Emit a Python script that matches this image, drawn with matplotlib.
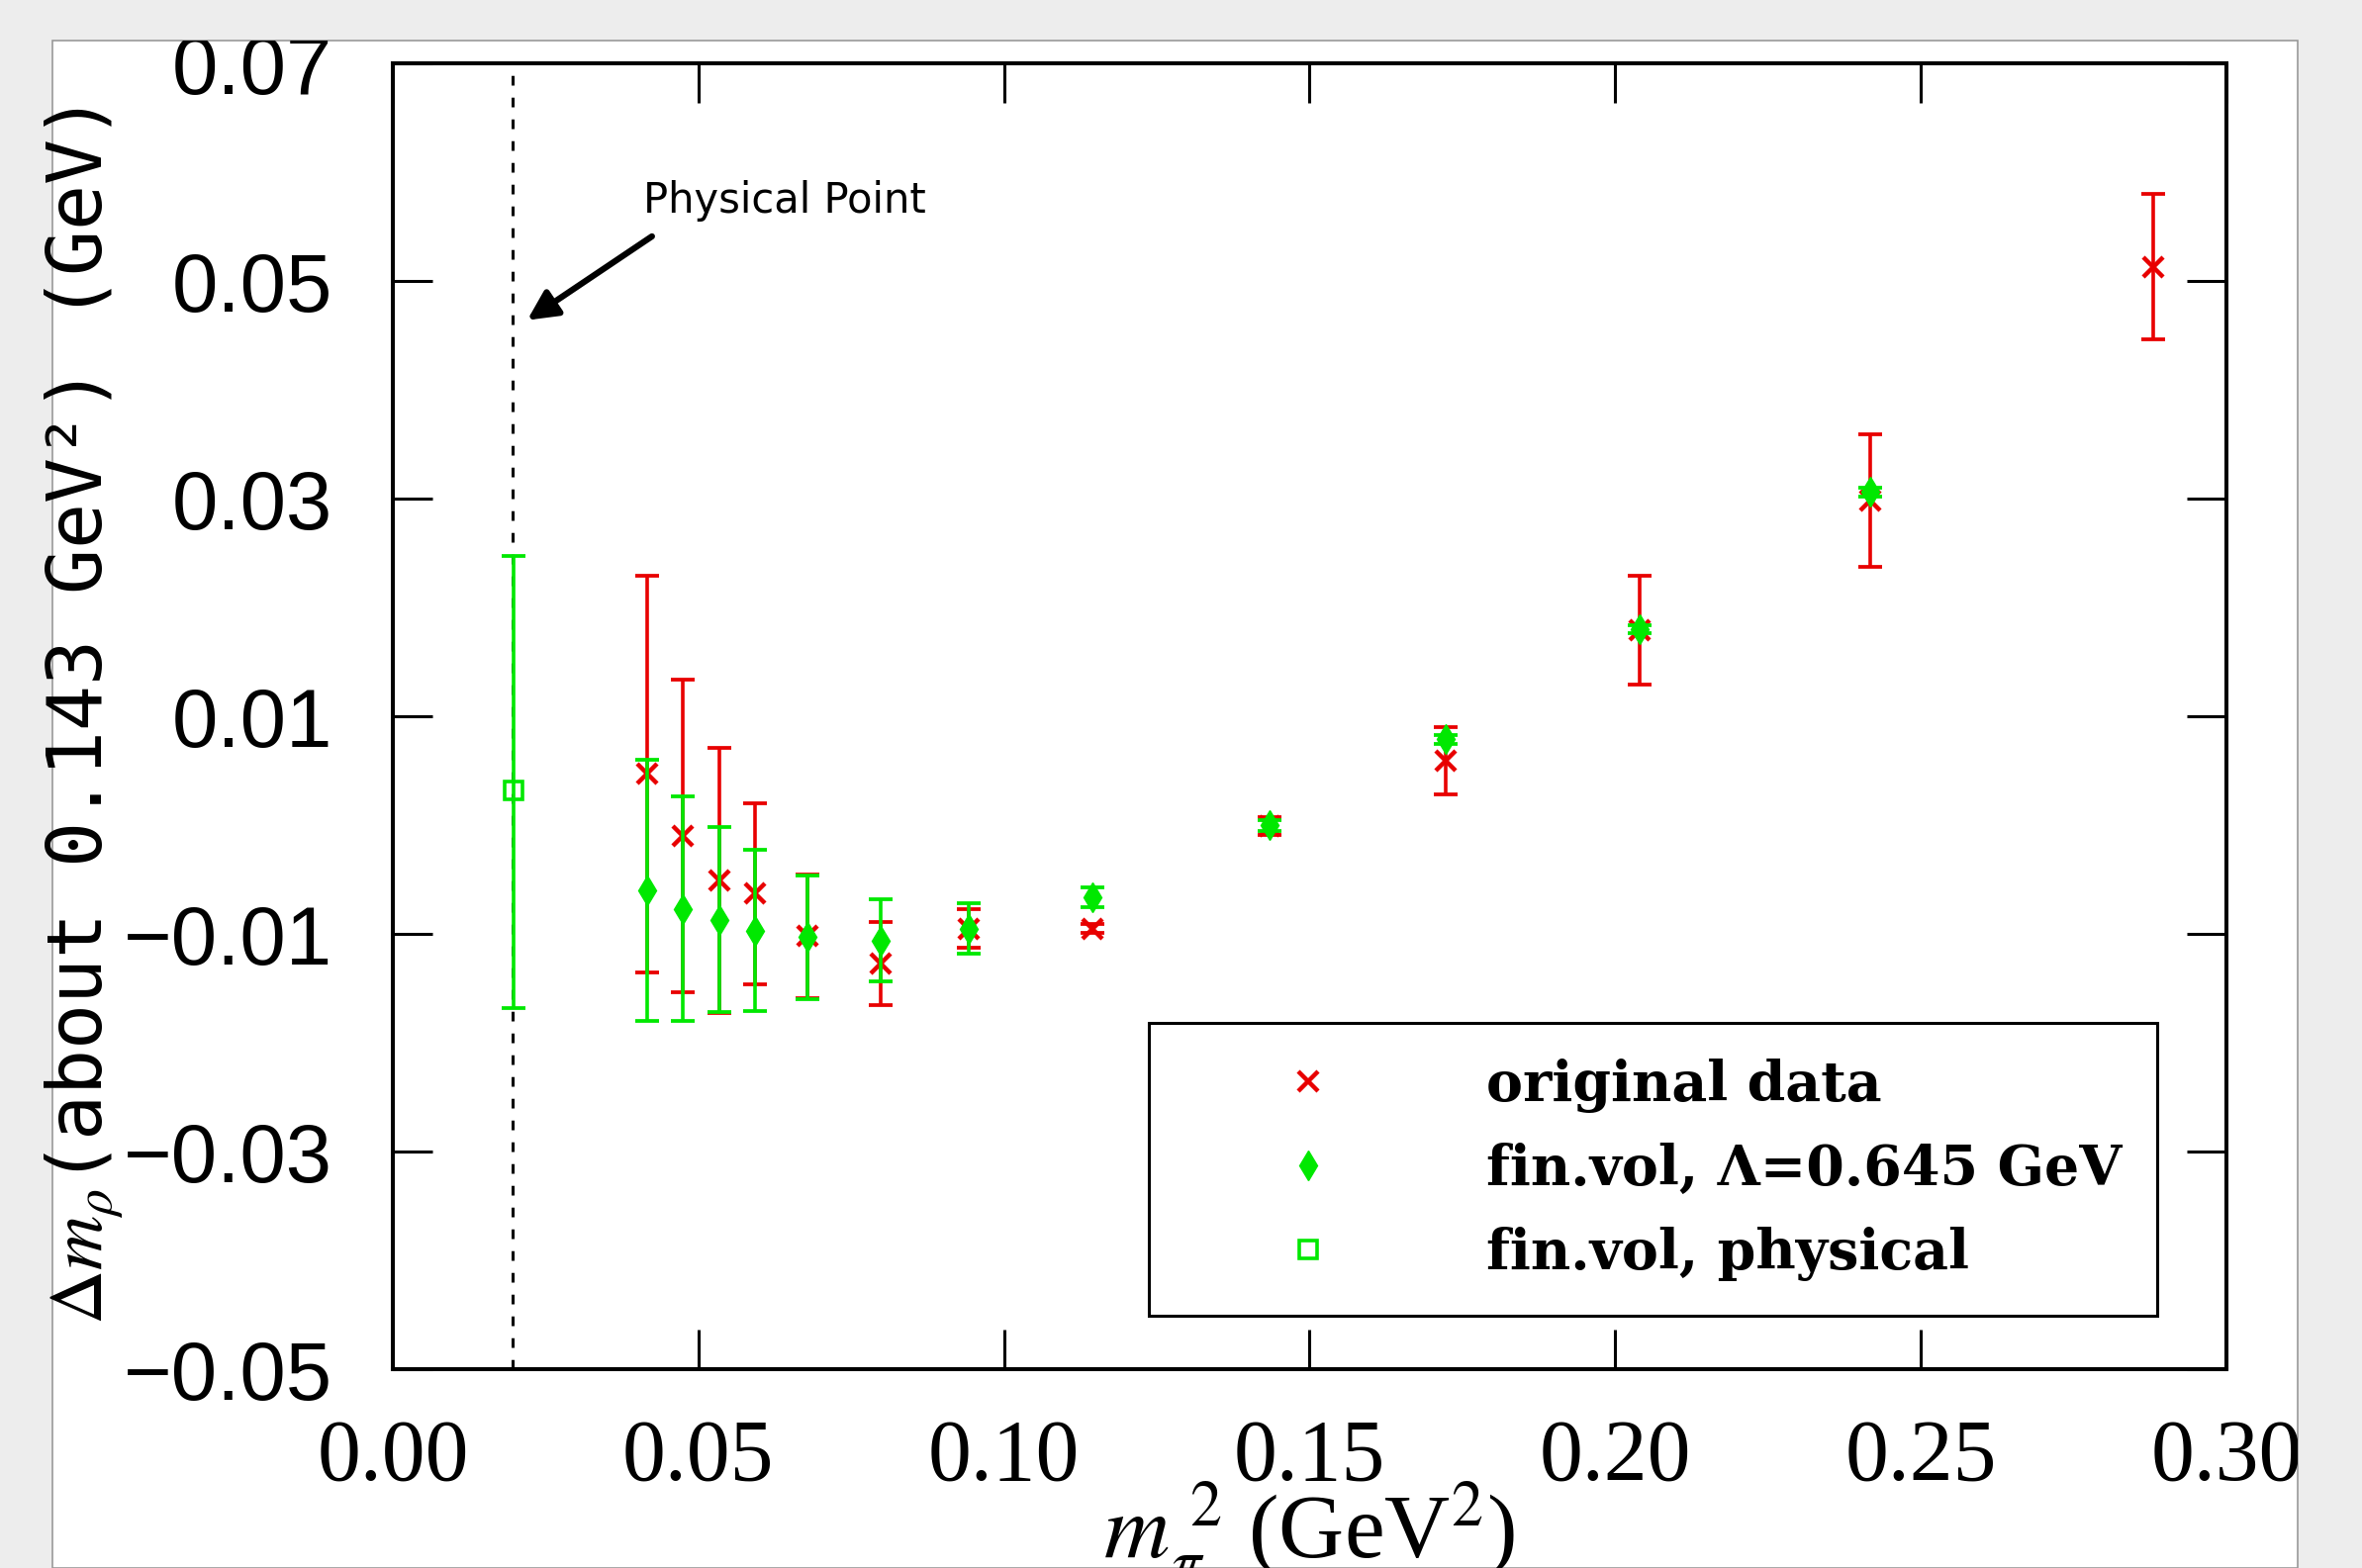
import matplotlib
matplotlib.use("Agg")
import matplotlib.pyplot as plt
from matplotlib.patches import Rectangle

# m_pi^2 (GeV^2) of the lattice points
x_orig = [0.0416, 0.0474, 0.0535, 0.0593, 0.0679, 0.0798, 0.0943, 0.1144, 0.1434, 0.1722, 0.2040, 0.2417, 0.2880]
# original data
y_orig = [0.0047, -0.0010, -0.0051, -0.0063, -0.0102, -0.0127, -0.0095, -0.0095, -0.0001, 0.0059, 0.0179, 0.0298, 0.0513]
e_orig = [0.0182, 0.0144, 0.0122, 0.0083, 0.0057, 0.0038, 0.0018, 0.0004, 0.0008, 0.0031, 0.0050, 0.0061, 0.0067]

# fin.vol, Lambda = 0.645 GeV (no point at the heaviest mass)
x_fv = x_orig[:12]
y_fv = [-0.0060, -0.0077, -0.0087, -0.0097, -0.0103, -0.0106, -0.0095, -0.0066, 0.0000, 0.0079, 0.0180, 0.0306]
e_fv = [0.0120, 0.0103, 0.0085, 0.0074, 0.0057, 0.0038, 0.0023, 0.0009, 0.0005, 0.0004, 0.0004, 0.0004]

# fin.vol, physical
x_phys = [0.0197]
y_phys = [0.0032]
e_phys_lo = [0.0200]
e_phys_hi = [0.0215]

phys_line = 0.0196

xticks = [0.00, 0.05, 0.10, 0.15, 0.20, 0.25, 0.30]
yticks = [0.07, 0.05, 0.03, 0.01, -0.01, -0.03, -0.05]

red = '#e80000'
green = '#00e800'

plt.rcParams['mathtext.fontset'] = 'stix'

fig = plt.figure(figsize=(23.87, 15.85), dpi=100, facecolor='#ededed')

# white page with thin border, behind everything
page = Rectangle((53 / 2387, 0), (2322 - 53) / 2387, (1585 - 41) / 1585,
                 transform=fig.transFigure, facecolor='white', edgecolor='#9a9a9a',
                 lw=1.2, zorder=-10)
fig.patches.append(page)

ax = fig.add_axes([0.1663, 0.1268, 0.7763, 0.8328])
ax.set_zorder(1)

ax.axvline(phys_line, color='black', lw=2.2, ls=(0, (3.2, 4.0)), zorder=1)

ax.errorbar(x_orig, y_orig, yerr=e_orig, fmt='none', ecolor=red, elinewidth=2.6,
            capsize=8.5, capthick=2.7, zorder=2)
ax.plot(x_orig, y_orig, ls='none', marker='x', ms=14, mew=3.2, color=red,
        label='original data', zorder=3)

ax.errorbar(x_fv, y_fv, yerr=e_fv, fmt='none', ecolor=green, elinewidth=2.6,
            capsize=8.5, capthick=2.7, zorder=4)
ax.plot(x_fv, y_fv, ls='none', marker='d', ms=15, color=green, mec=green,
        label='fin.vol, Λ=0.645 GeV', zorder=5)

ax.errorbar(x_phys, y_phys, yerr=[e_phys_lo, e_phys_hi], fmt='none', ecolor=green,
            elinewidth=2.6, capsize=8.5, capthick=2.7, zorder=4)
ax.plot(x_phys, y_phys, ls='none', marker='s', ms=13, mfc='none', mec=green, mew=2.6,
        label='fin.vol, physical', zorder=5)

ax.set_xlim(0.0, 0.30)
ax.set_ylim(-0.05, 0.07)
ax.set_xticks(xticks)
ax.set_yticks(yticks)
ax.set_xticklabels(['%.2f' % v for v in xticks])
ax.set_yticklabels([('%.2f' % v).replace('-', '\u2212') for v in yticks])

for s in ax.spines.values():
    s.set_linewidth(2.9)

ax.tick_params(direction='in', length=29, width=2.2, top=True, right=True)
ax.tick_params(axis='y', labelsize=60, pad=44, labelfontfamily='Liberation Sans')
ax.tick_params(axis='x', labelsize=63, pad=36, labelfontfamily='Liberation Serif')

for t in ax.xaxis.get_major_ticks() + ax.yaxis.get_major_ticks():
    t.label1.set_clip_path(page)

ax.set_xlabel(r'$m_\pi^{\ 2}$ (GeV$^2$)', fontsize=66, fontfamily='Liberation Serif')
ax.xaxis.set_label_coords(0.5, -0.084)
ax.set_ylabel(r'$\Delta m_\rho$(about 0.143 GeV²) (GeV)', fontsize=55,
              fontfamily='DejaVu Sans Mono')
ax.yaxis.set_label_coords(-0.146, 0.5)

ax.annotate('', xy=(0.0220, 0.0464), xytext=(0.0424, 0.0541),
            arrowprops=dict(arrowstyle='-|>', lw=4.5, color='black',
                            mutation_scale=45, shrinkA=0, shrinkB=0))
ax.text(0.0641, 0.0574, 'Physical Point', fontsize=30, fontfamily='DejaVu Sans',
        ha='center', va='center')

leg = ax.legend(loc='upper left', bbox_to_anchor=(0.4123, 0.2652), borderaxespad=0,
                prop={'family': 'DejaVu Serif', 'weight': 'bold', 'size': 40},
                handlelength=4.5, handletextpad=1.0, borderpad=0.64,
                labelspacing=0.54, fancybox=False, framealpha=1, numpoints=1)
leg.get_frame().set_edgecolor('black')
leg.get_frame().set_linewidth(2.2)

fig.savefig('out.png', dpi=100, facecolor=fig.get_facecolor())
